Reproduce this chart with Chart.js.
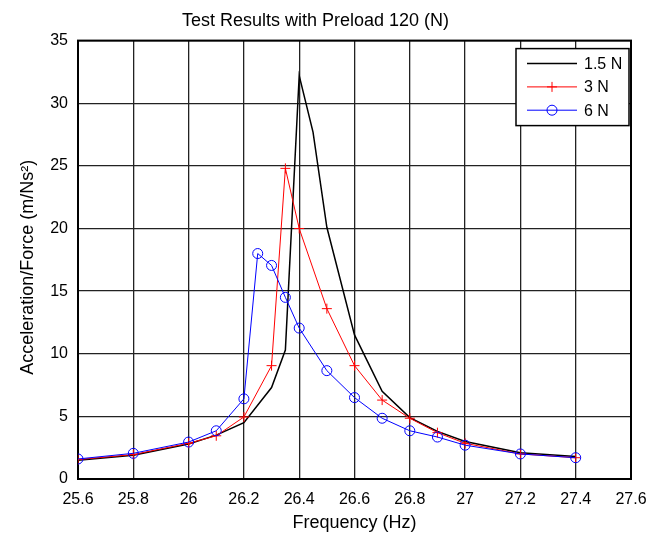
<!DOCTYPE html>
<html>
<head>
<meta charset="utf-8">
<script src="https://cdn.jsdelivr.net/npm/chart.js@4/dist/chart.umd.min.js"></script>
<style>
  html, body { margin: 0; padding: 0; background: #fff; }
</style>
</head>
<body>
<canvas id="c" width="670" height="537"></canvas>
<script>
// values
var freq15 = [25.6, 25.8, 26.0, 26.1, 26.2, 26.3, 26.35, 26.4, 26.45, 26.5, 26.6, 26.7, 26.8, 26.9, 27.0, 27.2, 27.4];
var acc15  = [1.5, 1.9, 2.8, 3.5, 4.5, 7.3, 10.3, 32.2, 27.7, 20.1, 11.5, 7.0, 4.9, 3.8, 3.0, 2.1, 1.8];

var freq3 = [25.6, 25.8, 26.0, 26.1, 26.2, 26.3, 26.35, 26.4, 26.5, 26.6, 26.7, 26.8, 26.9, 27.0, 27.2, 27.4];
var acc3  = [1.55, 1.95, 2.85, 3.45, 4.95, 9.05, 24.8, 20.0, 13.6, 9.05, 6.3, 4.85, 3.7, 2.85, 2.0, 1.7];

var freq6 = [25.6, 25.8, 26.0, 26.1, 26.2, 26.25, 26.3, 26.35, 26.4, 26.5, 26.6, 26.7, 26.8, 26.9, 27.0, 27.2, 27.4];
var acc6  = [1.6, 2.05, 2.95, 3.85, 6.4, 18.0, 17.05, 14.5, 12.05, 8.65, 6.5, 4.85, 3.85, 3.35, 2.7, 2.0, 1.7];

var seriesNames = ['1.5 N', '3 N', '6 N'];
var titleText = 'Test Results with Preload 120 (N)';
var xLabel = 'Frequency (Hz)';
// trailing nbsp pushes the rotated label down a bit, like matlab's raised superscript
var yLabel = 'Acceleration/Force (m/Ns\u00B2)\u00A0\u00A0\u00A0';

var FONT = '"Liberation Sans", Arial, Helvetica, sans-serif';

function pts(xs, ys) {
    return xs.map(function (x, i) { return { x: x, y: ys[i] }; });
}

// matlab style box round the axes
var framePlugin = {
    id: 'frame',
    beforeDatasetsDraw: function (chart) {
        var a = chart.chartArea, ctx = chart.ctx;
        ctx.save();
        ctx.strokeStyle = '#000';
        ctx.lineWidth = 2;
        ctx.strokeRect(a.left, a.top, a.right - a.left, a.bottom - a.top);
        ctx.restore();
    }
};

function drawMarker(ctx, style, x, y, r) {
    ctx.beginPath();
    if (style === 'cross') {
        ctx.moveTo(x - r, y); ctx.lineTo(x + r, y);
        ctx.moveTo(x, y - r); ctx.lineTo(x, y + r);
    } else if (style === 'circle') {
        ctx.arc(x, y, r, 0, Math.PI * 2);
    }
    ctx.stroke();
}

// legend box inside the top right corner
var boxLegend = {
    id: 'boxLegend',
    afterDraw: function (chart) {
        var ctx = chart.ctx, a = chart.chartArea;
        var bx = a.right - 115, by = a.top + 8, bw = 113, bh = 77;
        ctx.save();
        ctx.fillStyle = '#fff';
        ctx.fillRect(bx, by, bw, bh);
        ctx.strokeStyle = '#000';
        ctx.lineWidth = 1.5;
        ctx.strokeRect(bx, by, bw, bh);
        ctx.font = '16px ' + FONT;
        ctx.textBaseline = 'middle';
        ctx.textAlign = 'left';
        chart.data.datasets.forEach(function (ds, i) {
            var y = by + 15 + i * 23.3;
            ctx.strokeStyle = ds.borderColor;
            ctx.lineWidth = ds.borderWidth;
            ctx.beginPath();
            ctx.moveTo(bx + 11, y);
            ctx.lineTo(bx + 61, y);
            ctx.stroke();
            if (ds.pointRadius > 0) {
                ctx.lineWidth = 1;
                drawMarker(ctx, ds.pointStyle, bx + 36, y, 5);
            }
            ctx.fillStyle = '#000';
            ctx.fillText(ds.label, bx + 68, y + 1);
        });
        ctx.restore();
    }
};

var gridStyle = { color: '#222', lineWidth: 1.3, drawTicks: false };

new Chart(document.getElementById('c'), {
    type: 'scatter',
    data: {
        datasets: [
            {
                label: seriesNames[0],
                data: pts(freq15, acc15),
                showLine: true,
                borderColor: '#000',
                borderWidth: 1.5,
                pointRadius: 0,
                order: 3
            },
            {
                label: seriesNames[1],
                data: pts(freq3, acc3),
                showLine: true,
                borderColor: '#ff0000',
                backgroundColor: '#ff0000',
                borderWidth: 1,
                pointStyle: 'cross',
                pointRadius: 5,
                pointBorderWidth: 1,
                order: 2
            },
            {
                label: seriesNames[2],
                data: pts(freq6, acc6),
                showLine: true,
                borderColor: '#0000ff',
                backgroundColor: 'rgba(0,0,0,0)',
                borderWidth: 1,
                pointStyle: 'circle',
                pointRadius: 5,
                pointBorderWidth: 1,
                order: 1
            }
        ]
    },
    options: {
        responsive: false,
        animation: false,
        devicePixelRatio: 1,
        layout: { padding: { left: 0, right: 39, top: 0, bottom: 0 } },
        plugins: {
            legend: { display: false },
            tooltip: { enabled: false },
            title: {
                display: true,
                text: titleText,
                color: '#000',
                font: { family: FONT, size: 18, weight: 'normal' },
                padding: { top: 10, bottom: 9 }
            }
        },
        scales: {
            x: {
                type: 'linear',
                min: 25.6,
                max: 27.6,
                grid: gridStyle,
                border: { display: false },
                ticks: {
                    stepSize: 0.2,
                    padding: 11,
                    color: '#000',
                    font: { family: FONT, size: 16 },
                    maxRotation: 0,
                    callback: function (v) { return String(+v.toFixed(1)); }
                },
                title: {
                    display: true,
                    text: xLabel,
                    color: '#000',
                    font: { family: FONT, size: 18 },
                    padding: { top: 0, bottom: 3 }
                },
                afterFit: function (s) { s.height = 58; }
            },
            y: {
                min: 0,
                max: 35,
                grid: gridStyle,
                border: { display: false },
                ticks: {
                    stepSize: 5,
                    padding: 10,
                    color: '#000',
                    font: { family: FONT, size: 16 }
                },
                title: {
                    display: true,
                    text: yLabel,
                    color: '#000',
                    font: { family: FONT, size: 18 },
                    padding: { top: 17, bottom: 0 }
                },
                afterFit: function (s) { s.width = 78; }
            }
        }
    },
    plugins: [framePlugin, boxLegend]
});
</script>
</body>
</html>
